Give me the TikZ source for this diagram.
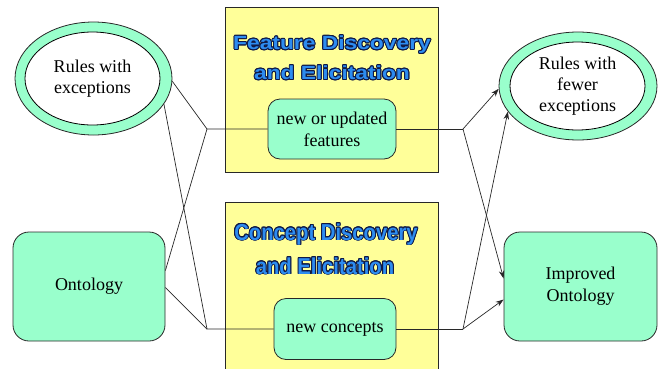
\documentclass[tikz,border=0pt]{standalone}
\usepackage{fontspec}
\setmainfont{Liberation Serif}
\newfontfamily\titleA[FakeStretch=1.2]{Liberation Sans}
\newfontfamily\titleB[FakeStretch=0.88]{Liberation Sans}
\usepackage{contour}
\contourlength{0.9pt}
\usetikzlibrary{shapes.geometric,arrows.meta}
\definecolor{mint}{RGB}{153,255,204}
\definecolor{ylw}{RGB}{255,255,153}
\definecolor{tblue}{RGB}{45,140,240}
\definecolor{tnavy}{RGB}{15,25,70}
\definecolor{edge}{RGB}{40,40,40}
\tikzset{
  ybox/.style={draw=edge, fill=ylw, line width=0.8pt, inner sep=0},
  gbox/.style={draw=edge, fill=mint, line width=0.8pt, align=center, inner sep=0,
    font=\fontsize{18}{22}\selectfont},
  outring/.style={ellipse, draw=edge, fill=mint, line width=0.8pt, inner sep=0},
  inring/.style={ellipse, draw=black, fill=white, line width=0.8pt, inner sep=0, align=center,
    font=\fontsize{18}{21}\selectfont},
  titleone/.style={anchor=base, text=tblue, font=\titleA\bfseries\fontsize{19}{30}\selectfont, inner sep=0},
  titletwo/.style={anchor=base, text=tblue, font=\titleB\bfseries\fontsize{23}{34}\selectfont, inner sep=0},
  conn/.style={draw=edge, line width=0.7pt},
  arr/.style={conn, -{Stealth[length=8pt,width=5.5pt]}}
}
\begin{document}
\begin{tikzpicture}[x=1pt,y=-1pt]
\clip (0,0) rectangle (662,368);
\fill[white] (0,0) rectangle (662,368);
% yellow boxes
\node[ybox, minimum width=213pt, minimum height=165pt] (fbox) at (331.5,89.5) {};
\node[ybox, minimum width=213pt, minimum height=176pt] (cbox) at (331.5,290) {};
% titles
\node[titleone] (ft1) at (332,49.5) {\contour{tnavy}{Feature Discovery}};
\node[titleone] (ft2) at (332,79.5) {\contour{tnavy}{and Elicitation}};
\node[titletwo] (ct1) at (326,240) {\contour{tnavy}{Concept Discovery}};
\node[titletwo] (ct2) at (325,274) {\contour{tnavy}{and Elicitation}};
% junctions
\coordinate (j1) at (207,129);
\coordinate (j2) at (207,329);
\coordinate (k1) at (463,129);
\coordinate (k2) at (463,329);
% nodes
\node[outring, minimum width=157pt, minimum height=113pt] (rwe) at (93.5,78.5) {};
\node[inring, minimum width=135pt, minimum height=93pt] (rwei) at (92.5,78.5) {Rules with\\exceptions};
\node[outring, minimum width=158pt, minimum height=108pt] (rfe) at (578,86) {};
\node[inring, minimum width=135pt, minimum height=88pt] (rfei) at (577.5,86) {Rules with\\fewer\\exceptions};
\node[gbox, rounded corners=16pt, minimum width=152pt, minimum height=109pt] (ont) at (89,286.5) {Ontology};
\node[gbox, rounded corners=16pt, minimum width=153pt, minimum height=109pt] (imp) at (580.5,286.5) {Improved\\Ontology};
\node[gbox, rounded corners=12pt, minimum width=128pt, minimum height=60pt] (nf) at (332,129) {new or updated\\features};
\node[gbox, rounded corners=12pt, minimum width=122pt, minimum height=61pt] (nc) at (335,329) {new concepts};
% connectors
\draw[conn] (rwe.-2) -- (j1) -- (nf.west);
\draw[conn] (rwe.-20) -- (j2) -- (nc.west);
\draw[conn] ([yshift=16pt]ont.east) -- (j1);
\draw[conn] ([yshift=-1pt]ont.east) -- (j2);
\draw[conn] (nf.east) -- (k1);
\draw[conn] (nc.east) -- (k2);
\draw[arr] (k1) -- (rfe.182);
\draw[arr] (k1) -- ([yshift=8pt]imp.west);
\draw[arr] (k2) -- (rfe.200);
\draw[arr] (k2) -- ([yshift=-13pt]imp.west);
\end{tikzpicture}
\end{document}
